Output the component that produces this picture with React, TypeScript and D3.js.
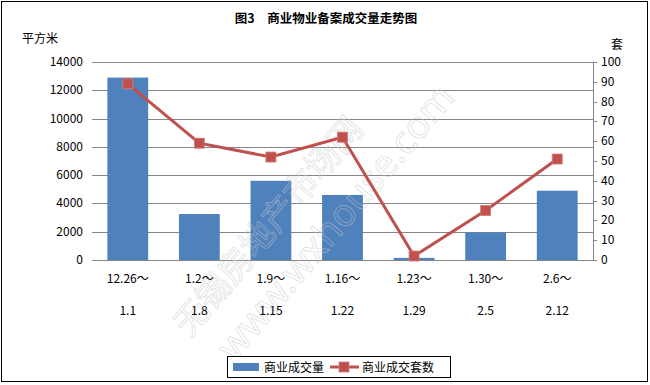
import React from 'react';
import * as d3 from 'd3';

const periodStart = ['12.26～', '1.2～', '1.9～', '1.16～', '1.23～', '1.30～', '2.6～'];
const periodEnd = ['1.1', '1.8', '1.15', '1.22', '1.29', '2.5', '2.12'];
const areaSold = [12900, 3250, 5600, 4600, 150, 1950, 4900];
const unitsSold = [89, 59, 52, 62, 2, 25, 51];
const leftTicks = [0, 2000, 4000, 6000, 8000, 10000, 12000, 14000];
const rightTicks = [0, 10, 20, 30, 40, 50, 60, 70, 80, 90, 100];

const W = 650;
const H = 385;
const plot = { left: 92, right: 593, top: 62, bottom: 260 };
const font = "SimSun, 'Noto Sans CJK SC', sans-serif";
const barColor = '#4F81BD';
const lineColor = '#C0504D';

const App: React.FC = () => {
  const cats = periodStart.map((_, i) => String(i));

  // excel style: gap width 75% -> bar = step / 1.75
  const x = d3.scaleBand()
    .domain(cats)
    .range([plot.left, plot.right])
    .paddingInner(0.43)
    .paddingOuter(0.215);

  const cx = (i: number) => (x(String(i)) as number) + x.bandwidth() / 2;
  const bw = x.bandwidth();

  const yL = d3.scaleLinear().domain([0, 14000]).range([plot.bottom, plot.top]);
  const yR = d3.scaleLinear().domain([0, 100]).range([plot.bottom, plot.top]);

  const line = d3.line<number>()
    .x((_, i) => cx(i))
    .y(d => yR(d));

  return (
    <div style={{ position: 'absolute', left: 0, top: 0 }}>
      <svg width={W} height={H} style={{ display: 'block', background: '#fff' }}>
        <rect x={1.5} y={1.5} width={646} height={380} fill="#fff" stroke="#000" strokeWidth={1} />

        <text x={326} y={23} textAnchor="middle" fontFamily={font} fontSize={12.5} fontWeight="bold">
          图3　商业物业备案成交量走势图
        </text>
        <text x={22} y={43} fontFamily={font} fontSize={12}>平方米</text>
        <text x={617} y={49} fontFamily={font} fontSize={12} textAnchor="middle">套</text>

        {/* gridlines */}
        {leftTicks.map(t => (
          <line key={'g' + t} x1={plot.left} x2={plot.right} y1={Math.round(yL(t)) + 0.5} y2={Math.round(yL(t)) + 0.5}
            stroke="#868686" strokeWidth={1} />
        ))}

        {/* left tick labels */}
        {leftTicks.map(t => (
          <text key={'l' + t} x={83} y={yL(t) + 4} textAnchor="end" fontFamily={font} fontSize={12}>{t}</text>
        ))}

        {/* right axis */}
        <line x1={plot.right + 0.5} x2={plot.right + 0.5} y1={plot.top} y2={plot.bottom + 0.5} stroke="#868686" />
        {rightTicks.map(t => (
          <g key={'r' + t}>
            <line x1={plot.right} x2={plot.right + 4} y1={Math.round(yR(t)) + 0.5} y2={Math.round(yR(t)) + 0.5} stroke="#868686" />
            <text x={601} y={yR(t) + 4} fontFamily={font} fontSize={12}>{t}</text>
          </g>
        ))}

        {/* bars */}
        {areaSold.map((v, i) => (
          <rect key={'b' + i} x={x(String(i))} y={yL(v)} width={bw} height={plot.bottom - yL(v)} fill={barColor} />
        ))}

        {/* watermark */}
        <g opacity={0.55} transform="translate(190,338) rotate(-50)">
          <text x={0} y={0} fontFamily="'Noto Sans CJK SC', sans-serif" fontSize={34} fill="none" stroke="#c8c8c8" strokeWidth={0.8}>
            无锡房地产市场网
          </text>
          <text x={10} y={50} fontFamily="'Noto Sans', sans-serif" fontSize={38} fill="none" stroke="#c8c8c8" strokeWidth={0.8}>
            www.wxhouse.com
          </text>
        </g>

        {/* line */}
        <path d={line(unitsSold) ?? ''} fill="none" stroke={lineColor} strokeWidth={3} />
        {unitsSold.map((v, i) => (
          <rect key={'m' + i} x={cx(i) - 5} y={yR(v) - 5} width={10} height={10} fill={lineColor} stroke="#d27c79" strokeWidth={0.8} />
        ))}

        {/* x labels, two rows */}
        {periodStart.map((s, i) => (
          <text key={'x1' + i} x={cx(i)} y={283} textAnchor="middle" fontFamily={font} fontSize={12}>{s}</text>
        ))}
        {periodEnd.map((s, i) => (
          <text key={'x2' + i} x={cx(i)} y={315} textAnchor="middle" fontFamily={font} fontSize={12}>{s}</text>
        ))}

        {/* legend */}
        <rect x={227.5} y={356.5} width={223} height={21} fill="#fff" stroke="#000" />
        <rect x={233} y={363} width={26} height={8} fill={barColor} />
        <text x={264} y={372} fontFamily={font} fontSize={12}>商业成交量</text>
        <line x1={330} x2={359} y1={367} y2={367} stroke={lineColor} strokeWidth={3} />
        <rect x={339} y={362} width={10} height={10} fill={lineColor} stroke="#d27c79" strokeWidth={0.8} />
        <text x={362} y={372} fontFamily={font} fontSize={12}>商业成交套数</text>
      </svg>
    </div>
  );
};

export default App;
